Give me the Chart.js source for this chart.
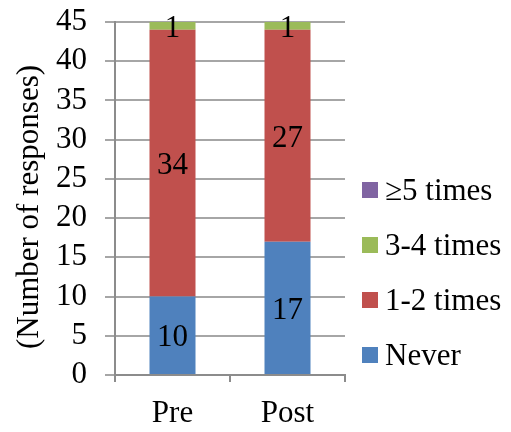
<!DOCTYPE html>
<html>
<head>
<meta charset="utf-8">
<script src="https://cdn.jsdelivr.net/npm/chart.js@4/dist/chart.umd.min.js"></script>
<style>
  html, body { margin: 0; padding: 0; background: #fff; }
  #wrap { width: 511px; height: 432px; position: relative; }
</style>
</head>
<body>
<div id="wrap"><canvas id="c" width="511" height="432"></canvas></div>
<script>
// Survey responses before and after, stacked by frequency
const categories = ['Pre', 'Post'];
const never = [10, 17];
const oneToTwo = [34, 27];
const threeToFour = [1, 1];
const fivePlus = [0, 0];
const seriesNames = ['Never', '1-2 times', '3-4 times', '\u22655 times'];
const yTicks = [0, 5, 10, 15, 20, 25, 30, 35, 40, 45];
const yTitle = '(Number of responses)';

const FONT = '"Liberation Serif", "Times New Roman", serif';
const FS = 31;
const colors = ['#4F81BD', '#C0504D', '#9BBB59', '#8064A2'];

// Numbers written in the middle of each non-empty segment
const segmentLabels = {
  id: 'segmentLabels',
  afterDatasetsDraw(chart) {
    const ctx = chart.ctx;
    ctx.save();
    ctx.font = FS + 'px ' + FONT;
    ctx.fillStyle = '#000';
    ctx.textAlign = 'center';
    ctx.textBaseline = 'middle';
    chart.data.datasets.forEach((ds, di) => {
      const meta = chart.getDatasetMeta(di);
      meta.data.forEach((bar, i) => {
        const v = ds.data[i];
        if (!v) return;
        const yc = (bar.y + bar.base) / 2;
        ctx.fillText(String(v), bar.x, yc + 3);
      });
    });
    ctx.restore();
  }
};

// Legend on the right (top entry is the last series) and the rotated axis title
const sideLegend = {
  id: 'sideLegend',
  afterDraw(chart) {
    const ctx = chart.ctx;
    const ds = chart.data.datasets;
    ctx.save();
    ctx.font = FS + 'px ' + FONT;
    ctx.textBaseline = 'middle';
    ctx.textAlign = 'left';
    const x0 = 362, top = 190, step = 55, box = 16;
    for (let k = 0; k < ds.length; k++) {
      const d = ds[ds.length - 1 - k];
      const y = top + k * step;
      ctx.fillStyle = d.backgroundColor;
      ctx.fillRect(x0, y - box / 2, box, box);
      ctx.fillStyle = '#000';
      ctx.fillText(d.label, x0 + 23, y + 2);
    }
    ctx.translate(30, 207);
    ctx.rotate(-Math.PI / 2);
    ctx.textAlign = 'center';
    ctx.fillText(yTitle, 0, 0);
    ctx.restore();
  }
};

const seriesValues = [never, oneToTwo, threeToFour, fivePlus];

new Chart(document.getElementById('c'), {
  type: 'bar',
  data: {
    labels: categories,
    datasets: seriesValues.map((vals, i) => ({
      label: seriesNames[i],
      data: vals,
      backgroundColor: colors[i],
      borderWidth: 0,
      barPercentage: 0.4,
      categoryPercentage: 1.0
    }))
  },
  options: {
    responsive: false,
    animation: false,
    devicePixelRatio: 1,
    layout: { padding: { left: 0, right: 166, top: 22, bottom: 0 } },
    plugins: { legend: { display: false }, tooltip: { enabled: false } },
    scales: {
      x: {
        stacked: true,
        offset: true,
        grid: { offset: true, drawOnChartArea: false, drawTicks: true, tickLength: 7, color: '#8c8c8c', lineWidth: 2 },
        border: { color: '#8c8c8c', width: 2 },
        ticks: { color: '#000', font: { family: FONT, size: FS }, padding: 13 },
        afterFit(s) { s.height = 57; s.paddingLeft = 0; s.paddingRight = 0; }
      },
      y: {
        stacked: true,
        min: 0,
        max: 45,
        afterBuildTicks(s) { s.ticks = yTicks.map(v => ({ value: v })); },
        grid: { color: '#a6a6a6', lineWidth: 2, tickLength: 10 },
        border: { color: '#8c8c8c', width: 2 },
        ticks: { color: '#000', font: { family: FONT, size: FS }, padding: 18, autoSkip: false },
        afterFit(s) { s.width = 115; s.paddingTop = 0; s.paddingBottom = 0; }
      }
    }
  },
  plugins: [segmentLabels, sideLegend]
});
</script>
</body>
</html>
